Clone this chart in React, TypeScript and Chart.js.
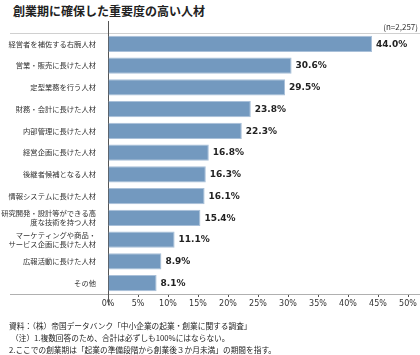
import React, { useEffect, useRef } from "react";
import { Chart, registerables } from "chart.js";

Chart.register(...registerables);

const TITLE = "創業期に確保した重要度の高い人材";
const N_LABEL = "(n=2,257)";
const categories: (string | string[])[] = [
  "経営者を補佐する右腕人材",
  "営業・販売に長けた人材",
  "定型業務を行う人材",
  "財務・会計に長けた人材",
  "内部管理に長けた人材",
  "経営企画に長けた人材",
  "後継者候補となる人材",
  "情報システムに長けた人材",
  ["研究開発・設計等ができる高", "度な技術を持つ人材"],
  ["マーケティングや商品・", "サービス企画に長けた人材"],
  "広報活動に長けた人材",
  "その他",
];
const values = [44.0, 30.6, 29.5, 23.8, 22.3, 16.8, 16.3, 16.1, 15.4, 11.1, 8.9, 8.1];
const notes = [
  "資料：（株）帝国データバンク「中小企業の起業・創業に関する調査」",
  "（注）1.複数回答のため、合計は必ずしも100%にはならない。",
  "2.ここでの創業期は「起業の準備段階から創業後３か月未満」の期間を指す。",
];

const FONT = "'Noto Sans CJK JP', 'Noto Sans', sans-serif";

const decor = {
  id: "decor",
  beforeDatasetsDraw(chart: any) {
    const { ctx, chartArea } = chart;
    const { left, top, bottom } = chartArea;
    ctx.save();
    ctx.strokeStyle = "#d0d0d0";
    ctx.lineWidth = 1;
    ctx.beginPath();
    ctx.moveTo(10, top + 0.5);
    ctx.lineTo(420, top + 0.5);
    ctx.stroke();
    ctx.strokeStyle = "#b0b0b0";
    ctx.beginPath();
    ctx.moveTo(10, bottom + 0.5);
    ctx.lineTo(420, bottom + 0.5);
    ctx.stroke();
    ctx.strokeStyle = "#555";
    ctx.beginPath();
    ctx.moveTo(left + 0.5, top - 12);
    ctx.lineTo(left + 0.5, bottom + 11);
    ctx.stroke();
    ctx.fillStyle = "#333";
    ctx.font = `8px ${FONT}`;
    ctx.textAlign = "right";
    ctx.textBaseline = "bottom";
    ctx.fillText(N_LABEL, 418, top - 2);
    ctx.restore();
  },
  afterDatasetsDraw(chart: any) {
    const { ctx } = chart;
    const meta = chart.getDatasetMeta(0);
    ctx.save();
    ctx.fillStyle = "#222";
    ctx.font = `bold 9px 'DejaVu Sans', sans-serif`;
    ctx.textAlign = "left";
    ctx.textBaseline = "middle";
    meta.data.forEach((el: any, i: number) => {
      ctx.fillText(values[i].toFixed(1) + "%", el.x + 4, el.y + 0.5);
    });
    ctx.restore();
  },
};

export default function App() {
  const ref = useRef<HTMLCanvasElement>(null);
  useEffect(() => {
    if (!ref.current) return;
    const chart = new Chart(ref.current, {
      type: "bar",
      data: {
        labels: categories,
        datasets: [
          {
            data: values,
            backgroundColor: "#7399bf",
            borderColor: "#a9c0d9",
            borderWidth: 1,
            categoryPercentage: 1,
            barPercentage: 0.75,
          },
        ],
      },
      options: {
        indexAxis: "y",
        animation: false,
        responsive: false,
        maintainAspectRatio: false,
        layout: { padding: { top: 33, right: 12, left: 0, bottom: 0 } },
        plugins: { legend: { display: false }, tooltip: { enabled: false } },
        scales: {
          x: {
            min: 0,
            max: 50,
            position: "bottom",
            ticks: {
              stepSize: 5,
              callback: (v: any) => v + "%",
              font: { size: 8, family: "'DejaVu Sans', sans-serif" },
              color: "#333",
              padding: 2,
              maxRotation: 0,
              autoSkip: false,
            },
            grid: { drawOnChartArea: false, tickLength: 3, color: "#555" },
            border: { display: false },
            afterFit: (s: any) => {
              s.height = 16;
            },
          },
          y: {
            ticks: {
              font: { size: 7.3, family: FONT, lineHeight: 1.3 },
              color: "#333",
              padding: 4,
              autoSkip: false,
            },
            grid: { display: false },
            border: { display: false },
            afterFit: (s: any) => {
              s.width = 108;
            },
          },
        },
      },
      plugins: [decor],
    } as any);
    return () => chart.destroy();
  }, []);

  return (
    <div style={{ position: "fixed", left: 0, top: 0, width: 420, height: 355, background: "#fff" }}>
      <div
        style={{
          position: "absolute",
          left: 13,
          top: 2,
          fontFamily: FONT,
          fontWeight: "bold",
          fontSize: 12,
          color: "#222",
          whiteSpace: "nowrap",
        }}
      >
        {TITLE}
      </div>
      <canvas ref={ref} width={420} height={310} style={{ position: "absolute", left: 0, top: 0 }} />
      <div
        style={{
          position: "absolute",
          left: 9,
          top: 320,
          fontFamily: FONT,
          fontSize: 7.7,
          lineHeight: "12px",
          color: "#222",
          whiteSpace: "nowrap",
        }}
      >
        {notes.map((t, i) => (
          <div key={i} style={{ marginLeft: i === 1 ? 2 : 0 }}>
            {t}
          </div>
        ))}
      </div>
    </div>
  );
}
